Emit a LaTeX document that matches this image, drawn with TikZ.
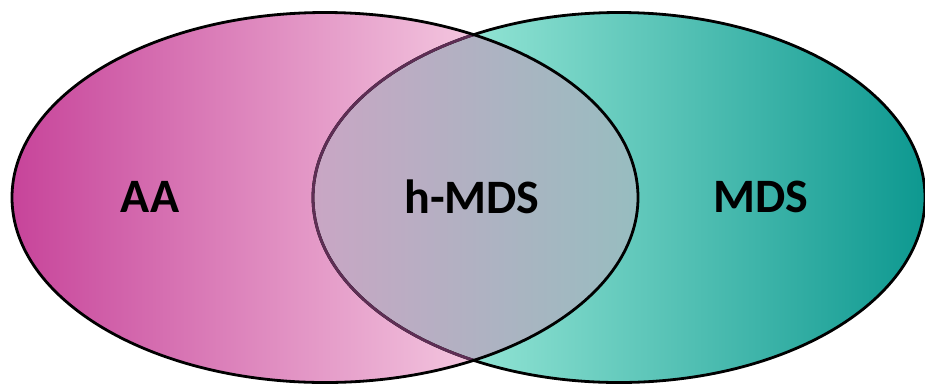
\documentclass[tikz,border=0pt]{standalone}
\usepackage{fontspec}
\setmainfont{Carlito}
\definecolor{magL}{HTML}{C7449A}
\definecolor{magR}{HTML}{F4C8E0}
\definecolor{tealL}{HTML}{92E4D4}
\definecolor{tealR}{HTML}{0D9890}
\definecolor{ovL}{HTML}{C9A6C4}
\definecolor{ovR}{HTML}{97BDC0}
\definecolor{arcpurple}{HTML}{5E2E55}
\tikzset{
  label/.style={font=\fontsize{48}{48}\selectfont\bfseries, text=black, inner sep=0pt},
  outline/.style={line width=2.8pt}
}
\begin{document}
\begin{tikzpicture}[x=1pt,y=-1pt]
\useasboundingbox (0,0) rectangle (925,384);
\def\leftell{(325,197.5) ellipse [x radius=313pt, y radius=185pt]}
\def\rightell{(619,197.5) ellipse [x radius=306pt, y radius=185pt]}
% fills
\begin{scope}
  \clip \leftell;
  \shade[left color=magL, right color=magR] (12,0) rectangle (480,384);
\end{scope}
\begin{scope}
  \clip \rightell;
  \shade[left color=tealL, right color=tealR] (470,0) rectangle (925,384);
\end{scope}
\begin{scope}
  \clip \leftell;
  \clip \rightell;
  \shade[left color=ovL, right color=ovR] (313,0) rectangle (638,384);
\end{scope}
% outlines
\draw[outline, black] \rightell;
\begin{scope}
  \clip \leftell;
  \draw[outline, arcpurple] \rightell;
\end{scope}
\draw[outline, black] \leftell;
% labels
\node[label] (aa) at (150,197) {AA};
\node[label] (hmds) at (472,197) {h-MDS};
\node[label] (mds) at (761,197) {MDS};
\end{tikzpicture}
\end{document}
